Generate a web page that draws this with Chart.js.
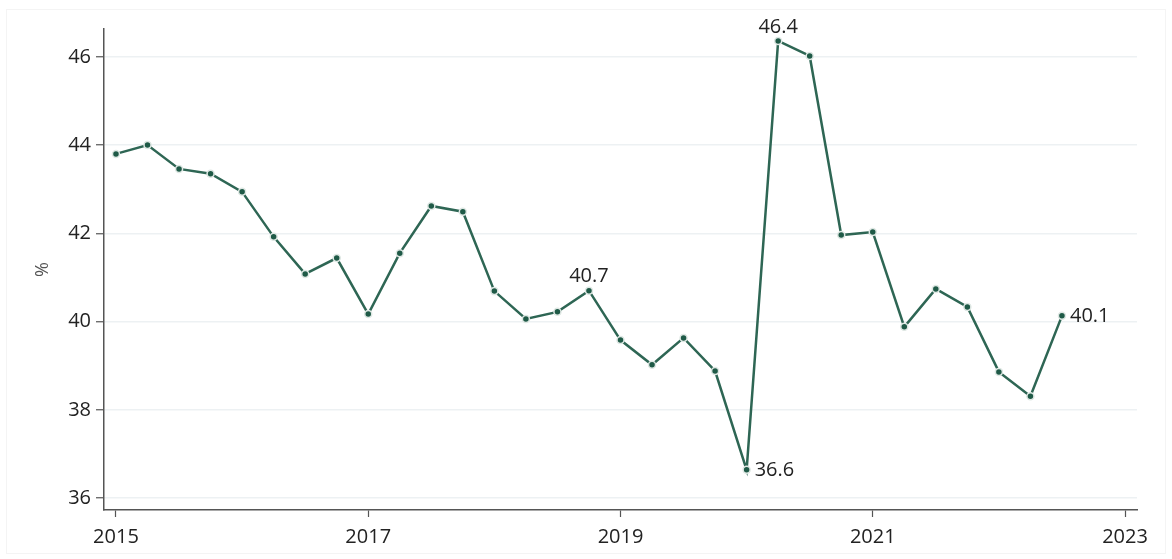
<!DOCTYPE html>
<html>
<head>
<meta charset="utf-8">
<script src="https://cdn.jsdelivr.net/npm/chart.js@4.4.1/dist/chart.umd.min.js"></script>
<style>
  html, body { margin: 0; padding: 0; background: #fff; }
  #wrap { width: 1172px; height: 559px; position: relative; }
</style>
</head>
<body>
<div id="wrap"><canvas id="myChart"></canvas></div>
<script>
// quarterly observations, 2015 Q1 .. 2022 Q3
const years = [
  2015, 2015.25, 2015.5, 2015.75,
  2016, 2016.25, 2016.5, 2016.75,
  2017, 2017.25, 2017.5, 2017.75,
  2018, 2018.25, 2018.5, 2018.75,
  2019, 2019.25, 2019.5, 2019.75,
  2020, 2020.25, 2020.5, 2020.75,
  2021, 2021.25, 2021.5, 2021.75,
  2022, 2022.25, 2022.5
];
const values = [
  43.8, 44.0, 43.46, 43.35,
  42.94, 41.92, 41.08, 41.44,
  40.17, 41.55, 42.62, 42.49,
  40.69, 40.06, 40.22, 40.7,
  39.58, 39.02, 39.63, 38.88,
  36.64, 46.36, 46.02, 41.96,
  42.03, 39.88, 40.74, 40.33,
  38.86, 38.31, 40.13
];
const xTicks = [2015, 2017, 2019, 2021, 2023];
const yTicks = [36, 38, 40, 42, 44, 46];
// points that carry a value label, and where the label sits
const labelIdx = [15, 20, 21, 30];
const labelPos = ['top', 'right', 'top', 'right'];

const lineColor = '#2e6654';
const textColor = '#222';

const frame = {
  id: 'frame',
  beforeDraw(chart) {
    const ctx = chart.ctx;
    ctx.save();
    ctx.strokeStyle = '#f4f4f4';
    ctx.lineWidth = 1;
    ctx.strokeRect(6.5, 9.5, 1159, 544);
    ctx.restore();
  }
};

const valueLabels = {
  id: 'valueLabels',
  afterDatasetsDraw(chart) {
    const ctx = chart.ctx;
    const xs = chart.scales.x;
    const ys = chart.scales.y;
    ctx.save();
    ctx.font = '20px "Open Sans"';
    ctx.fillStyle = textColor;
    labelIdx.forEach((i, k) => {
      const px = xs.getPixelForValue(years[i]);
      const py = ys.getPixelForValue(values[i]);
      const txt = values[i].toFixed(1);
      if (labelPos[k] === 'top') {
        ctx.textAlign = 'center';
        ctx.textBaseline = 'bottom';
        ctx.fillText(txt, px, py - 4);
      } else {
        ctx.textAlign = 'left';
        ctx.textBaseline = 'middle';
        ctx.fillText(txt, px + 8, py);
      }
    });
    ctx.restore();
  }
};

function initChart(target) {
  const data = {
    datasets: [{
      data: years.map((y, i) => ({ x: y, y: values[i] })),
      borderColor: lineColor,
      borderWidth: 2.5,
      pointRadius: 3.5,
      pointBorderWidth: 1.5,
      pointBackgroundColor: '#1f5a47',
      pointBorderColor: '#dfe8e4',
      tension: 0
    }]
  };

  const config = {
    type: 'line',
    data: data,
    options: {
      responsive: false,
      animation: false,
      layout: { padding: { left: 10, top: 29, right: 35, bottom: 10 } },
      plugins: { legend: { display: false }, tooltip: { enabled: false } },
      scales: {
        x: {
          type: 'linear',
          min: 2014.905,
          max: 2023.095,
          afterBuildTicks: (axis) => { axis.ticks = xTicks.map((v) => ({ value: v })); },
          afterFit: (axis) => { axis.height = 39; },
          grid: { drawOnChartArea: false, drawTicks: true, tickLength: 7, tickColor: '#555', tickWidth: 1.2 },
          border: { color: '#555', width: 1.5 },
          ticks: { color: textColor, font: { family: 'Open Sans', size: 20 }, padding: 8, callback: (v) => String(v) }
        },
        y: {
          min: 35.73,
          max: 46.63,
          afterBuildTicks: (axis) => { axis.ticks = yTicks.map((v) => ({ value: v })); },
          afterFit: (axis) => { axis.width = 94; },
          grid: { color: '#edf1f3', lineWidth: 1.5, drawTicks: true, tickLength: 8, tickColor: '#555', tickWidth: 1.2 },
          border: { color: '#555', width: 1.5 },
          title: { display: true, text: '%', color: '#555', font: { family: 'Open Sans', size: 18 }, padding: { top: 22, bottom: 0 } },
          ticks: { color: textColor, font: { family: 'Open Sans', size: 20 }, padding: 5 }
        }
      }
    },
    plugins: [frame, valueLabels]
  };

  return new Chart(target, config);
}

document.addEventListener('DOMContentLoaded', () => {
  const canvas = document.querySelector('#myChart');
  canvas.width = 1172;
  canvas.height = 559;
  initChart(canvas);
});
</script>
</body>
</html>
